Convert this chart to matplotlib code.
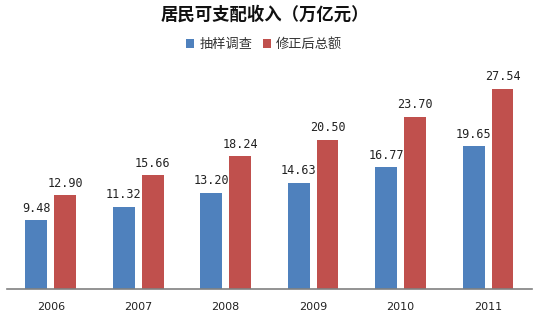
import matplotlib
matplotlib.use("Agg")
import matplotlib.pyplot as plt
import numpy as np

plt.rcParams['font.family'] = ['Noto Sans CJK SC', 'DejaVu Sans']

years = ["2006", "2007", "2008", "2009", "2010", "2011"]
survey = [9.48, 11.32, 13.20, 14.63, 16.77, 19.65]
revised = [12.90, 15.66, 18.24, 20.50, 23.70, 27.54]
series_names = ["抽样调查", "修正后总额"]

blue = "#4F81BD"
red = "#C0504D"

fig = plt.figure(figsize=(5.35, 3.19), dpi=100)
ax = fig.add_axes([0.013, 0.094, 0.981, 0.718])

x = np.arange(len(years))
w = 0.25
off = 0.165
b1 = ax.bar(x - off, survey, w, color=blue, label=series_names[0])
b2 = ax.bar(x + off, revised, w, color=red, label=series_names[1])

# value labels
for bars, vals in ((b1, survey), (b2, revised)):
    for rect, v in zip(bars, vals):
        ax.annotate(f"{v:.2f}", (rect.get_x() + rect.get_width() / 2, v),
                    xytext=(0, 4), textcoords="offset points",
                    ha="center", va="bottom", fontsize=8.5,
                    family="DejaVu Sans Mono", color="#222222")

ax.set_xlim(-0.5, len(years) - 0.5)
ax.set_ylim(0, 31.5)
ax.set_xticks(x)
ax.set_xticklabels(years, family="DejaVu Sans", fontsize=8, color="#222222")
ax.tick_params(axis="x", length=0, pad=9)
ax.set_yticks([])
for s in ("top", "right", "left"):
    ax.spines[s].set_visible(False)
ax.spines["bottom"].set_color("#808080")
ax.spines["bottom"].set_linewidth(1.2)

fig.text(0.496, 0.955, "居民可支配收入（万亿元）", ha="center", va="center",
         fontsize=12.5, fontweight="bold", color="#111111")
fig.legend(handles=[b1, b2], loc="center", bbox_to_anchor=(0.494, 0.86),
           ncol=2, frameon=False, fontsize=9.5, handlelength=0.6,
           handleheight=0.6, handletextpad=0.4, columnspacing=0.8,
           labelcolor="#333333")

fig.savefig("out.png", dpi=100, facecolor="white")
